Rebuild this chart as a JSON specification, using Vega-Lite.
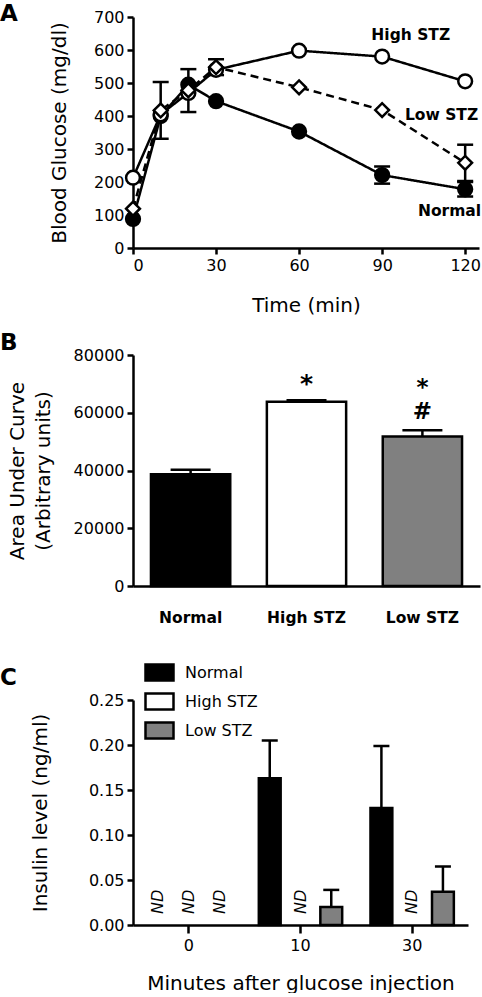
{
  "$schema": "https://vega.github.io/schema/vega-lite/v6.json",
  "padding": {"left": 0, "top": 3, "right": 0, "bottom": 0},
  "config": {
    "font": "DejaVu Sans",
    "view": {"stroke": null},
    "axis": {"domainColor": "black", "domainWidth": 2.5, "tickColor": "black", "tickWidth": 2.5, "tickSize": 6, "labelFontSize": 16, "labelColor": "black", "titleFontSize": 20, "titleFontWeight": "normal", "titleColor": "black", "grid": false, "labelFont": "DejaVu Sans", "titleFont": "DejaVu Sans", "labelPadding": 3},
    "title": {"fontSize": 23, "fontWeight": "bold", "anchor": "start", "frame": "group", "color": "black", "font": "DejaVu Sans"}
  },
  "datasets": {
    "insulin": [
      {"min": "10", "group": "Normal", "ins": 0.163, "hi": 0.205},
      {"min": "10", "group": "Low STZ", "ins": 0.020, "hi": 0.039},
      {"min": "30", "group": "Normal", "ins": 0.130, "hi": 0.199},
      {"min": "30", "group": "Low STZ", "ins": 0.037, "hi": 0.065}
    ],
    "notdetected": [
      {"min": "0", "group": "Normal"},
      {"min": "0", "group": "High STZ"},
      {"min": "0", "group": "Low STZ"},
      {"min": "10", "group": "High STZ"},
      {"min": "30", "group": "High STZ"}
    ]
  },
  "spacing": 31,
  "resolve": {"scale": {"fill": "independent", "shape": "independent", "strokeDash": "independent", "x": "independent", "y": "independent"}},
  "vconcat": [
    {
      "spacing": 17,
      "resolve": {"scale": {"fill": "independent", "shape": "independent", "strokeDash": "independent", "x": "independent", "y": "independent"}},
      "vconcat": [
        {
          "title": {"text": "A", "dx": -133, "dy": 21},
          "width": 346,
          "height": 231,
          "data": {"values": [
            {"group": "Normal", "t": 0, "v": 88},
            {"group": "Normal", "t": 10, "v": 400},
            {"group": "Normal", "t": 20, "v": 495},
            {"group": "Normal", "t": 30, "v": 445},
            {"group": "Normal", "t": 60, "v": 353},
            {"group": "Normal", "t": 90, "v": 221, "lo": 195, "hi": 247},
            {"group": "Normal", "t": 120, "v": 178, "lo": 156, "hi": 200},
            {"group": "High STZ", "t": 0, "v": 213},
            {"group": "High STZ", "t": 10, "v": 405},
            {"group": "High STZ", "t": 20, "v": 470},
            {"group": "High STZ", "t": 30, "v": 540},
            {"group": "High STZ", "t": 60, "v": 598},
            {"group": "High STZ", "t": 90, "v": 580},
            {"group": "High STZ", "t": 120, "v": 505},
            {"group": "Low STZ", "t": 0, "v": 119},
            {"group": "Low STZ", "t": 10, "v": 417, "lo": 331, "hi": 503},
            {"group": "Low STZ", "t": 20, "v": 478, "lo": 412, "hi": 542},
            {"group": "Low STZ", "t": 30, "v": 548, "lo": 524, "hi": 572},
            {"group": "Low STZ", "t": 60, "v": 487},
            {"group": "Low STZ", "t": 90, "v": 418},
            {"group": "Low STZ", "t": 120, "v": 258, "lo": 203, "hi": 313}
          ]},
          "encoding": {
            "x": {"field": "t", "type": "quantitative", "scale": {"domain": [0, 125], "nice": false}, "axis": {"values": [0, 30, 60, 90, 120], "title": "Time (min)", "titlePadding": 22}},
            "y": {"field": "v", "type": "quantitative", "scale": {"domain": [0, 700], "nice": false}, "axis": {"values": [0, 100, 200, 300, 400, 500, 600, 700], "title": "Blood Glucose (mg/dl)", "titlePadding": 24}}
          },
          "layer": [
            {
              "transform": [{"filter": "isValid(datum.hi)"}],
              "mark": {"type": "rule", "color": "black", "strokeWidth": 2.5},
              "encoding": {"y": {"field": "lo", "type": "quantitative"}, "y2": {"field": "hi"}}
            },
            {
              "transform": [{"filter": "isValid(datum.hi)"}],
              "mark": {"type": "tick", "color": "black", "orient": "horizontal", "size": 16, "thickness": 2.5, "opacity": 1},
              "encoding": {"y": {"field": "hi", "type": "quantitative"}}
            },
            {
              "transform": [{"filter": "isValid(datum.hi)"}],
              "mark": {"type": "tick", "color": "black", "orient": "horizontal", "size": 16, "thickness": 2.5, "opacity": 1},
              "encoding": {"y": {"field": "lo", "type": "quantitative"}}
            },
            {
              "mark": {"type": "line", "color": "black", "strokeWidth": 2.5},
              "encoding": {"strokeDash": {"field": "group", "type": "nominal", "scale": {"domain": ["Normal", "High STZ", "Low STZ"], "range": [[1, 0], [1, 0], [8, 5]]}, "legend": null}}
            },
            {
              "mark": {"type": "point", "filled": true, "stroke": "black", "strokeWidth": 2.5, "size": 190, "opacity": 1},
              "encoding": {
                "shape": {"field": "group", "type": "nominal", "scale": {"domain": ["Normal", "High STZ", "Low STZ"], "range": ["circle", "circle", "diamond"]}, "legend": null},
                "fill": {"field": "group", "type": "nominal", "scale": {"domain": ["Normal", "High STZ", "Low STZ"], "range": ["black", "white", "white"]}, "legend": null}
              }
            },
            {
              "transform": [{"filter": "datum.t == 120 && datum.group == 'High STZ'"}],
              "mark": {"type": "text", "align": "right", "baseline": "middle", "dx": -15, "dy": -46, "fontSize": 15.5, "fontWeight": "bold", "color": "black"},
              "encoding": {"text": {"field": "group"}}
            },
            {
              "transform": [{"filter": "datum.t == 120 && datum.group == 'Low STZ'"}],
              "mark": {"type": "text", "align": "right", "baseline": "middle", "dx": 13, "dy": -48, "fontSize": 15.5, "fontWeight": "bold", "color": "black"},
              "encoding": {"text": {"field": "group"}}
            },
            {
              "transform": [{"filter": "datum.t == 120 && datum.group == 'Normal'"}],
              "mark": {"type": "text", "align": "right", "baseline": "middle", "dx": 16, "dy": 22, "fontSize": 15.5, "fontWeight": "bold", "color": "black"},
              "encoding": {"text": {"field": "group"}}
            }
          ]
        },
        {
          "title": {"text": "B", "dx": -133, "dy": 12},
          "width": 347,
          "height": 231,
          "data": {"values": [
            {"group": "Normal", "auc": 38700, "hi": 40300},
            {"group": "High STZ", "auc": 63800, "hi": 64300},
            {"group": "Low STZ", "auc": 51800, "hi": 53900}
          ]},
          "encoding": {
            "x": {"field": "group", "type": "nominal", "sort": null, "scale": {"paddingInner": 0.316, "paddingOuter": 0.155}, "axis": {"title": null, "labelAngle": 0, "ticks": false, "labelFontWeight": "bold", "labelFontSize": 15.5, "labelPadding": 24}},
            "y": {"field": "auc", "type": "quantitative", "scale": {"domain": [0, 80000], "nice": false}, "axis": {"values": [0, 20000, 40000, 60000, 80000], "format": "d", "title": ["Area Under Curve", "(Arbitrary units)"], "titleLineHeight": 26, "titlePadding": 20}}
          },
          "layer": [
            {
              "mark": {"type": "rule", "color": "black", "strokeWidth": 2.5},
              "encoding": {"y2": {"field": "hi"}}
            },
            {
              "mark": {"type": "tick", "color": "black", "size": 40, "thickness": 2.5, "opacity": 1},
              "encoding": {"y": {"field": "hi", "type": "quantitative"}}
            },
            {
              "mark": {"type": "bar", "stroke": "black", "strokeWidth": 2.5, "opacity": 1},
              "encoding": {"fill": {"field": "group", "type": "nominal", "scale": {"domain": ["Normal", "High STZ", "Low STZ"], "range": ["black", "white", "#808080"]}, "legend": null}}
            },
            {
              "transform": [{"filter": "datum.group == 'High STZ'"}],
              "mark": {"type": "text", "text": "*", "baseline": "alphabetic", "dy": -8, "fontSize": 25, "fontWeight": "bold", "color": "black"},
              "encoding": {"y": {"field": "hi", "type": "quantitative"}}
            },
            {
              "transform": [{"filter": "datum.group == 'Low STZ'"}],
              "mark": {"type": "text", "text": ["*", "#"], "lineHeight": 24, "baseline": "alphabetic", "dy": -35, "fontSize": 23, "fontWeight": "bold", "color": "black"},
              "encoding": {"y": {"field": "hi", "type": "quantitative"}}
            }
          ]
        }
      ]
    },
    {
      "title": {"text": "C", "dx": -133, "dy": 37},
      "width": 335,
      "height": 225,
      "encoding": {
        "x": {"field": "min", "type": "nominal", "sort": null, "scale": {"domain": ["0", "10", "30"], "paddingInner": 0, "paddingOuter": 0}, "axis": {"title": "Minutes after glucose injection", "labelAngle": 0, "tickSize": 8, "labelPadding": 4, "titlePadding": 20}},
        "xOffset": {"field": "group", "type": "nominal", "sort": null, "scale": {"domain": ["Normal", "High STZ", "Low STZ"], "paddingInner": 0.29, "paddingOuter": 0.46}}
      },
      "layer": [
        {
          "data": {"name": "insulin"},
          "mark": {"type": "rule", "color": "black", "strokeWidth": 2.5},
          "encoding": {"y": {"field": "ins", "type": "quantitative"}, "y2": {"field": "hi"}}
        },
        {
          "data": {"name": "insulin"},
          "mark": {"type": "tick", "color": "black", "size": 16, "thickness": 2.5, "opacity": 1},
          "encoding": {"y": {"field": "hi", "type": "quantitative"}}
        },
        {
          "data": {"name": "insulin"},
          "mark": {"type": "bar", "stroke": "black", "strokeWidth": 2.5, "opacity": 1},
          "encoding": {
            "y": {"field": "ins", "type": "quantitative", "scale": {"domain": [0, 0.25], "nice": false}, "axis": {"values": [0, 0.05, 0.1, 0.15, 0.2, 0.25], "format": ".2f", "title": "Insulin level (ng/ml)", "titlePadding": 38}},
            "fill": {"field": "group", "type": "nominal", "scale": {"domain": ["Normal", "High STZ", "Low STZ"], "range": ["black", "white", "#808080"]}, "legend": {"orient": "none", "legendX": 11, "legendY": -43, "title": null, "symbolType": "M-1,-0.57L1,-0.57L1,0.57L-1,0.57Z", "symbolSize": 784, "symbolStrokeColor": "black", "symbolStrokeWidth": 2.5, "labelFontSize": 16, "labelColor": "black", "labelFont": "DejaVu Sans", "rowPadding": -6, "labelOffset": 10}}
          }
        },
        {
          "data": {"name": "notdetected"},
          "mark": {"type": "text", "text": "ND", "angle": 270, "align": "left", "baseline": "middle", "dx": 11, "fontSize": 16, "fontStyle": "italic", "color": "black"},
          "encoding": {"y": {"datum": 0, "type": "quantitative"}}
        }
      ]
    }
  ]
}
